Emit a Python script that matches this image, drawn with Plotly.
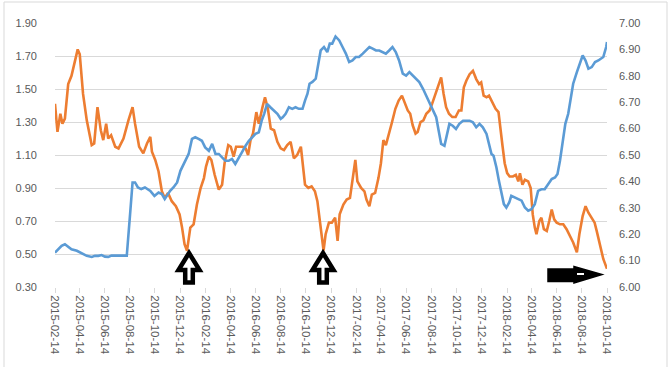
import plotly.graph_objects as go

orange_dates = [
    "2015-02-14","2015-02-20","2015-02-27","2015-03-04","2015-03-10","2015-03-18","2015-03-26","2015-04-03",
    "2015-04-10","2015-04-15","2015-04-23","2015-05-02","2015-05-14","2015-05-20","2015-05-28","2015-06-05",
    "2015-06-11","2015-06-18","2015-06-23","2015-06-30","2015-07-10","2015-07-18","2015-07-30","2015-08-11",
    "2015-08-21","2015-08-27","2015-09-06","2015-09-16","2015-09-25","2015-10-03","2015-10-07","2015-10-15",
    "2015-10-23","2015-10-31","2015-11-07","2015-11-15","2015-11-24","2015-12-04","2015-12-13","2015-12-19",
    "2015-12-25","2015-12-31","2016-01-08","2016-01-16","2016-01-24","2016-02-02","2016-02-10","2016-02-15",
    "2016-02-22","2016-02-28","2016-03-07","2016-03-17","2016-03-25","2016-03-31","2016-04-09","2016-04-15",
    "2016-04-22","2016-04-28","2016-05-06","2016-05-14","2016-05-21","2016-05-27","2016-06-02","2016-06-08",
    "2016-06-16","2016-06-22","2016-07-01","2016-07-07","2016-07-14","2016-07-21","2016-07-29","2016-08-06",
    "2016-08-14","2016-08-22","2016-08-30","2016-09-07","2016-09-15","2016-09-23","2016-10-02","2016-10-07",
    "2016-10-12","2016-10-20","2016-10-28","2016-11-05","2016-11-11","2016-11-17","2016-11-22","2016-11-26",
    "2016-12-01","2016-12-09","2016-12-16","2016-12-24","2016-12-30","2017-01-04","2017-01-13","2017-01-21",
    "2017-01-29","2017-02-04","2017-02-11","2017-02-16","2017-02-25","2017-03-05","2017-03-10","2017-03-17",
    "2017-03-23","2017-03-31","2017-04-08","2017-04-14","2017-04-20","2017-04-26","2017-05-03","2017-05-11",
    "2017-05-19","2017-05-27","2017-06-04","2017-06-12","2017-06-18","2017-06-24","2017-06-30","2017-07-07",
    "2017-07-12","2017-07-19","2017-07-26","2017-08-02","2017-08-10","2017-08-16","2017-08-24","2017-09-01",
    "2017-09-07","2017-09-13","2017-09-19","2017-09-26","2017-10-04","2017-10-12","2017-10-20","2017-10-26",
    "2017-11-01","2017-11-07","2017-11-15","2017-11-23","2017-12-01","2017-12-08","2017-12-13","2017-12-19",
    "2017-12-26","2018-01-01","2018-01-09","2018-01-17","2018-01-24","2018-01-29","2018-02-03","2018-02-08",
    "2018-02-14","2018-02-20","2018-02-28","2018-03-07","2018-03-13","2018-03-17","2018-03-23","2018-03-29",
    "2018-04-06","2018-04-12","2018-04-17","2018-04-22","2018-04-26","2018-05-03","2018-05-08","2018-05-14",
    "2018-05-21","2018-05-27","2018-06-02","2018-06-08","2018-06-14","2018-06-22","2018-06-30","2018-07-08",
    "2018-07-16","2018-07-24","2018-08-02","2018-08-08","2018-08-16","2018-08-23","2018-08-30","2018-09-07",
    "2018-09-14","2018-09-19","2018-09-27","2018-10-05","2018-10-14",
]
orange_vals = [
    1.41,1.24,1.35,1.29,1.32,1.53,1.58,1.67,
    1.74,1.71,1.47,1.31,1.16,1.17,1.39,1.25,
    1.19,1.29,1.20,1.22,1.15,1.14,1.20,1.31,
    1.39,1.29,1.15,1.11,1.17,1.21,1.12,1.07,
    1.00,0.88,0.84,0.87,0.82,0.79,0.74,0.66,
    0.56,0.52,0.66,0.68,0.80,0.90,0.96,1.03,
    1.09,1.07,0.98,0.89,0.92,1.05,1.16,1.15,
    1.09,1.15,1.15,1.15,1.14,1.10,1.19,1.23,
    1.36,1.29,1.39,1.45,1.38,1.26,1.25,1.18,
    1.14,1.13,1.16,1.18,1.08,1.10,1.15,1.05,
    0.92,0.90,0.91,0.88,0.82,0.70,0.58,0.52,
    0.62,0.69,0.69,0.72,0.58,0.74,0.80,0.83,
    0.84,0.94,1.07,0.94,0.90,0.88,0.83,0.79,
    0.86,0.87,0.96,1.05,1.19,1.16,1.22,1.30,
    1.38,1.43,1.46,1.41,1.37,1.35,1.28,1.23,
    1.24,1.30,1.31,1.35,1.37,1.41,1.47,1.53,
    1.57,1.47,1.39,1.35,1.33,1.33,1.37,1.37,
    1.51,1.55,1.59,1.61,1.56,1.53,1.54,1.46,
    1.45,1.46,1.42,1.38,1.36,1.27,1.15,1.05,
    0.99,0.97,0.97,0.98,0.94,0.99,0.92,0.95,
    0.94,0.90,0.74,0.66,0.62,0.70,0.72,0.65,
    0.64,0.70,0.77,0.71,0.69,0.68,0.68,0.65,
    0.61,0.57,0.51,0.62,0.73,0.79,0.75,0.72,
    0.69,0.64,0.56,0.47,0.41,
]

blue_dates = [
    "2015-02-14","2015-02-22","2015-03-02","2015-03-10","2015-03-18","2015-03-26","2015-04-08","2015-04-20",
    "2015-05-02","2015-05-14","2015-05-22","2015-05-30","2015-06-07","2015-06-15","2015-06-23","2015-07-01",
    "2015-07-14","2015-07-26","2015-08-07","2015-08-15","2015-08-21","2015-08-27","2015-09-03","2015-09-11",
    "2015-09-20","2015-10-03","2015-10-13","2015-10-23","2015-10-31","2015-11-07","2015-11-12","2015-11-20",
    "2015-11-28","2015-12-07","2015-12-15","2015-12-23","2015-12-31","2016-01-04","2016-01-12","2016-01-20",
    "2016-01-28","2016-02-05","2016-02-13","2016-02-22","2016-03-01","2016-03-09","2016-03-17","2016-03-25",
    "2016-04-02","2016-04-10","2016-04-18","2016-04-26","2016-05-04","2016-05-12","2016-05-21","2016-05-29",
    "2016-06-06","2016-06-14","2016-06-22","2016-06-29","2016-07-05","2016-07-12","2016-07-20","2016-07-28",
    "2016-08-06","2016-08-14","2016-08-19","2016-08-26","2016-09-03","2016-09-11","2016-09-19","2016-09-27",
    "2016-10-06","2016-10-12","2016-10-18","2016-10-23","2016-10-30","2016-11-07","2016-11-13","2016-11-19",
    "2016-11-27","2016-12-05","2016-12-11","2016-12-17","2016-12-25","2017-01-03","2017-01-11","2017-01-19",
    "2017-01-27","2017-02-04","2017-02-12","2017-02-20","2017-03-01","2017-03-09","2017-03-17","2017-03-25",
    "2017-04-02","2017-04-10","2017-04-18","2017-04-26","2017-05-04","2017-05-12","2017-05-20","2017-05-28",
    "2017-06-06","2017-06-14","2017-06-22","2017-06-30","2017-07-08","2017-07-16","2017-07-25","2017-08-02",
    "2017-08-10","2017-08-18","2017-08-26","2017-09-01","2017-09-07","2017-09-15","2017-09-21","2017-09-27",
    "2017-10-05","2017-10-13","2017-10-21","2017-10-30","2017-11-07","2017-11-15","2017-11-23","2017-12-01",
    "2017-12-09","2017-12-17","2017-12-26","2018-01-01","2018-01-07","2018-01-12","2018-01-19","2018-01-25",
    "2018-01-31","2018-02-06","2018-02-12","2018-02-19","2018-02-24","2018-03-05","2018-03-13","2018-03-21",
    "2018-03-29","2018-04-06","2018-04-14","2018-04-22","2018-04-30","2018-05-08","2018-05-16","2018-05-24",
    "2018-06-02","2018-06-10","2018-06-16","2018-06-22","2018-06-29","2018-07-05","2018-07-12","2018-07-18",
    "2018-07-24","2018-08-02","2018-08-10","2018-08-16","2018-08-23","2018-08-30","2018-09-07","2018-09-15",
    "2018-09-23","2018-09-30","2018-10-05","2018-10-12","2018-10-14",
]
blue_vals = [
    6.130,6.143,6.156,6.162,6.153,6.143,6.137,6.126,
    6.118,6.114,6.118,6.118,6.121,6.115,6.114,6.119,
    6.119,6.119,6.119,6.276,6.396,6.396,6.377,6.371,
    6.377,6.364,6.345,6.358,6.352,6.333,6.345,6.364,
    6.377,6.396,6.440,6.466,6.491,6.504,6.561,6.567,
    6.561,6.554,6.529,6.516,6.542,6.504,6.504,6.491,
    6.478,6.478,6.485,6.466,6.491,6.510,6.535,6.554,
    6.567,6.580,6.586,6.630,6.656,6.694,6.681,6.668,
    6.656,6.637,6.643,6.656,6.681,6.675,6.681,6.675,
    6.675,6.706,6.732,6.770,6.777,6.789,6.846,6.896,
    6.909,6.890,6.922,6.922,6.949,6.934,6.909,6.884,
    6.852,6.858,6.871,6.871,6.884,6.896,6.909,6.903,
    6.896,6.896,6.890,6.884,6.896,6.909,6.890,6.858,
    6.808,6.801,6.814,6.801,6.789,6.776,6.751,6.725,
    6.700,6.675,6.643,6.592,6.542,6.535,6.580,6.618,
    6.611,6.599,6.618,6.630,6.630,6.630,6.624,6.605,
    6.618,6.605,6.580,6.542,6.504,6.497,6.453,6.402,
    6.352,6.314,6.301,6.320,6.345,6.339,6.333,6.327,
    6.301,6.289,6.295,6.314,6.364,6.370,6.370,6.390,
    6.409,6.415,6.428,6.478,6.554,6.618,6.656,6.719,
    6.770,6.814,6.852,6.877,6.858,6.827,6.833,6.852,
    6.858,6.865,6.871,6.909,6.928,
]

BLUE = "#5B9BD5"
ORANGE = "#ED7D31"
GRID = "#D9D9D9"
TXT = "#595959"
FONT = "Liberation Sans Narrow, Liberation Sans, Arial"

W, H = 670, 367
L, R, T, B = 55, 63, 23, 80
PW, PH = W - L - R, H - T - B


def P(x, y):
    return (x - L) / PW, (H - B - y) / PH


def path(points):
    s = ""
    for i, (x, y) in enumerate(points):
        px, py = P(x, y)
        s += ("M" if i == 0 else "L") + f"{px:.5f},{py:.5f} "
    return s + "Z"


fig = go.Figure()
fig.add_trace(go.Scatter(x=blue_dates, y=blue_vals, mode="lines", yaxis="y2",
                         line=dict(color=BLUE, width=2.6), name="blue"))
fig.add_trace(go.Scatter(x=orange_dates, y=orange_vals, mode="lines",
                         line=dict(color=ORANGE, width=2.6), name="orange"))

shapes = []
# outer border
x0, y0 = P(4, 2)
x1, y1 = P(667, 372)
shapes.append(dict(type="rect", xref="paper", yref="paper", x0=x0, y0=y1, x1=x1, y1=y0,
                   line=dict(color=GRID, width=1), layer="below"))


def up_arrow(cx, tip, base, bottom, hw, sw):
    return [(cx, tip), (cx + hw, base), (cx + sw, base), (cx + sw, bottom),
            (cx - sw, bottom), (cx - sw, base), (cx - hw, base)]


for cx in (189, 323):
    shapes.append(dict(type="path", xref="paper", yref="paper",
                       path=path(up_arrow(cx, 253, 270, 282.5, 10.5, 3.8)),
                       fillcolor="white", line=dict(color="black", width=4.5)))

right_pts = [(548, 269), (574, 269), (574, 266.5), (602, 274.5), (574, 283), (574, 281.5), (548, 281.5)]
shapes.append(dict(type="path", xref="paper", yref="paper", path=path(right_pts),
                   fillcolor="black", line=dict(color="black", width=1.5)))
a0 = P(577, 274)
a1 = P(584, 274)
shapes.append(dict(type="line", xref="paper", yref="paper", x0=a0[0], y0=a0[1], x1=a1[0], y1=a1[1],
                   line=dict(color="white", width=2)))

fig.update_layout(
    width=W, height=H,
    margin=dict(l=L, r=R, t=T, b=B),
    paper_bgcolor="white", plot_bgcolor="white",
    showlegend=False,
    font=dict(family=FONT, size=11, color=TXT),
    shapes=shapes,
    xaxis=dict(type="date", range=["2015-02-14", "2018-10-14"],
               tick0="2015-02-14", dtick="M2", tickformat="%Y-%m-%d",
               tickangle=90, showgrid=False, ticks="outside", ticklen=5,
               tickcolor=GRID, showline=False, zeroline=False,
               tickfont=dict(family=FONT, size=11.5, color=TXT)),
    yaxis=dict(range=[0.30, 1.90], dtick=0.2, tick0=0.3, tickformat=".2f",
               showgrid=True, gridcolor=GRID, gridwidth=1, zeroline=False,
               showline=False, ticks="", ticklabelstandoff=17,
               tickfont=dict(family=FONT, size=11, color=TXT)),
    yaxis2=dict(range=[6.0, 7.0], dtick=0.1, tick0=6.0, tickformat=".2f",
                overlaying="y", side="right", showgrid=False, zeroline=False,
                showline=False, ticks="", ticklabelstandoff=11,
                tickfont=dict(family=FONT, size=11, color=TXT)),
)

fig.write_html("out.html",
               config={"displayModeBar": False, "staticPlot": True},
               post_script="document.body.style.margin='0';document.body.style.overflow='hidden';")
